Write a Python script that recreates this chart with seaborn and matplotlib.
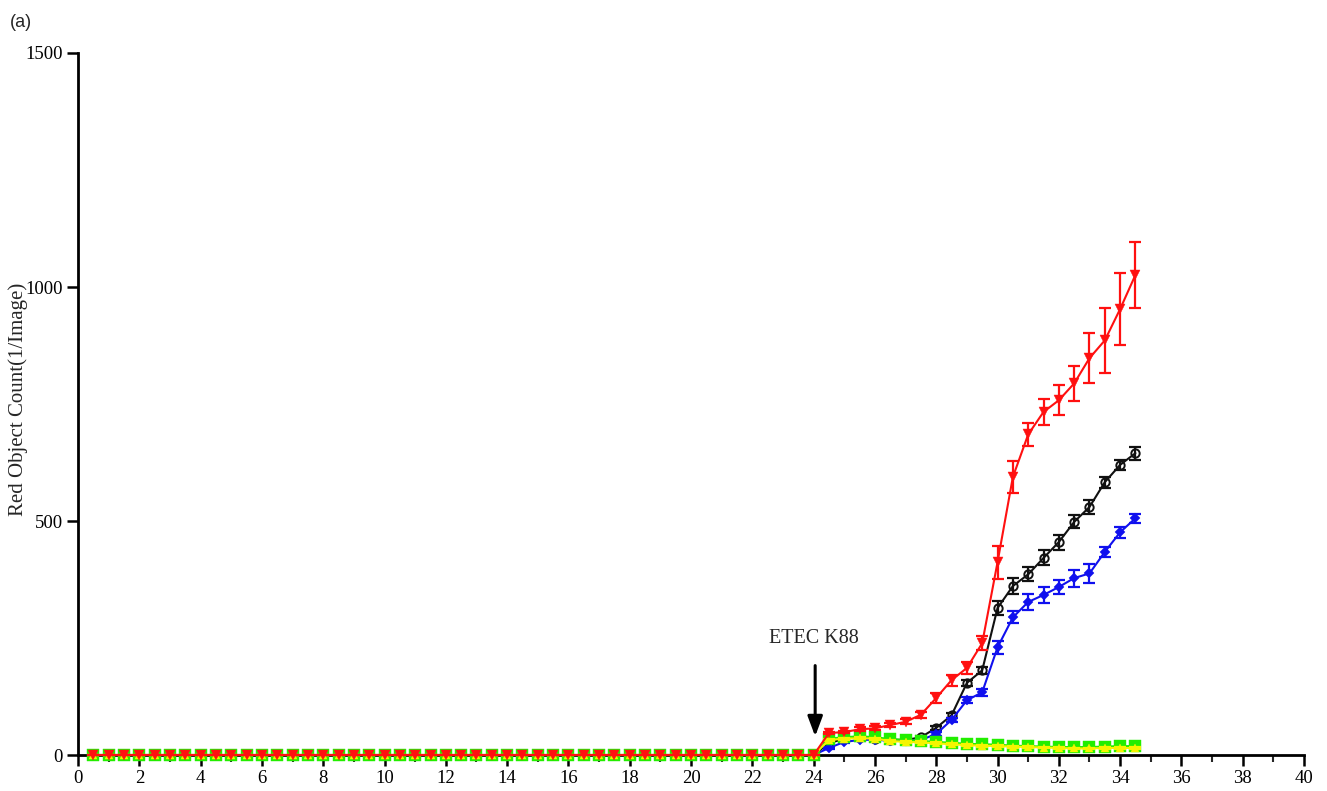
import numpy as np
import pandas as pd
import matplotlib
matplotlib.use("Agg")
import matplotlib.pyplot as plt
from matplotlib.ticker import MultipleLocator
import seaborn as sns

# Sampling times (h): every 30 min from 0.5 h to 34.5 h
hours = np.arange(0.5, 34.75, 0.5)

# Before the challenge at 24 h every well reads zero
pre_infection = [0] * 48

# Red object counts from 24.5 h to 34.5 h
red_post = [47, 49, 55, 57, 64, 71, 86, 122, 160, 186, 239, 412, 594, 685,
            733, 758, 794, 848, 886, 953, 1026]
black_post = [25, 35, 38, 35, 33, 32, 38, 58, 85, 154, 181, 314, 361, 386,
              421, 455, 498, 530, 583, 620, 645]
blue_post = [15, 28, 32, 33, 30, 30, 32, 45, 75, 117, 134, 230, 294, 327,
             342, 359, 378, 388, 434, 476, 506]
green_post = [35, 38, 40, 38, 34, 32, 30, 28, 26, 24, 23, 22, 20, 19,
              18, 17, 17, 17, 18, 19, 19]
yellow_post = [32, 35, 36, 35, 30, 28, 27, 25, 23, 21, 20, 19, 18, 17,
               16, 15, 14, 14, 15, 15, 15]

# Error bar half-widths for the same time points
red_err_post = [3, 3, 4, 4, 4, 5, 6, 10, 12, 12, 15, 35, 35, 25, 28, 32, 38,
                54, 70, 77, 70]
black_err_post = [2, 3, 3, 3, 3, 3, 3, 4, 5, 6, 8, 15, 18, 15, 16, 16, 14,
                  14, 12, 10, 14]
blue_err_post = [2, 3, 3, 3, 3, 3, 3, 4, 5, 6, 8, 14, 13, 18, 17, 15, 18,
                 20, 10, 12, 10]
green_err_post = [2] * 21
yellow_err_post = [2] * 21

# Drawing order: later entries sit on top
series = {
    "black": (black_post, black_err_post, "#111111", "o", 6.0, "none"),
    "blue": (blue_post, blue_err_post, "#1010ee", "D", 5.5, "#1010ee"),
    "green": (green_post, green_err_post, "#22ee00", "s", 8.5, "#22ee00"),
    "yellow": (yellow_post, yellow_err_post, "#f5f500", "^", 5.5, "#f5f500"),
    "red": (red_post, red_err_post, "#ff1010", "v", 6.5, "#ff1010"),
}

sns.set_style("ticks")
plt.rcParams["font.family"] = ["Liberation Serif", "DejaVu Serif"]

fig = plt.figure(figsize=(13.27, 7.91), dpi=100)
ax = fig.add_axes([0.0588, 0.0455, 0.9239, 0.8875])

for z, (name, (post, err_post, color, marker, msize, face)) in enumerate(series.items()):
    values = pre_infection + post
    errs = [0] * 48 + err_post
    df = pd.DataFrame({"time": hours, "count": values})
    ax.errorbar(hours, values, yerr=errs, fmt="none", ecolor=color,
                elinewidth=1.6, capsize=4, capthick=1.6, clip_on=False,
                zorder=3 + 2 * z)
    sns.lineplot(data=df, x="time", y="count", ax=ax, color=color,
                 marker=marker, markersize=msize, markerfacecolor=face,
                 markeredgecolor=color,
                 markeredgewidth=1.4 if face == "none" else 0.3,
                 linewidth=1.5, clip_on=False, zorder=4 + 2 * z)

ax.set_xlim(0, 40)
ax.set_ylim(0, 1500)
ax.xaxis.set_major_locator(MultipleLocator(2))
ax.xaxis.set_minor_locator(MultipleLocator(1))
ax.yaxis.set_major_locator(MultipleLocator(500))

for side in ("top", "right"):
    ax.spines[side].set_visible(False)
for side in ("left", "bottom"):
    ax.spines[side].set_linewidth(2)
    ax.spines[side].set_color("black")
    ax.spines[side].set_zorder(1)

ax.tick_params(axis="both", which="major", length=8, width=1.8,
               labelsize=13.5, colors="black", pad=3)
ax.tick_params(axis="x", which="minor", length=5, width=1.5)

ax.set_xlabel("")
ax.set_ylabel("Red Object Count(1/Image)", fontsize=15)
ax.yaxis.set_label_coords(-0.041, 0.506)

# Time of bacterial challenge
ax.annotate("", xy=(24.05, 34), xytext=(24.05, 197),
            arrowprops=dict(arrowstyle="-|>,head_width=0.45,head_length=1.2",
                            color="black", lw=2.2))
ax.text(24.0, 228, "ETEC K88", ha="center", va="bottom", fontsize=14.5)

fig.text(0.0075, 0.982, "(a)", ha="left", va="top", fontsize=13,
         family=["Liberation Sans", "DejaVu Sans"])

fig.savefig("out.png", dpi=100)
